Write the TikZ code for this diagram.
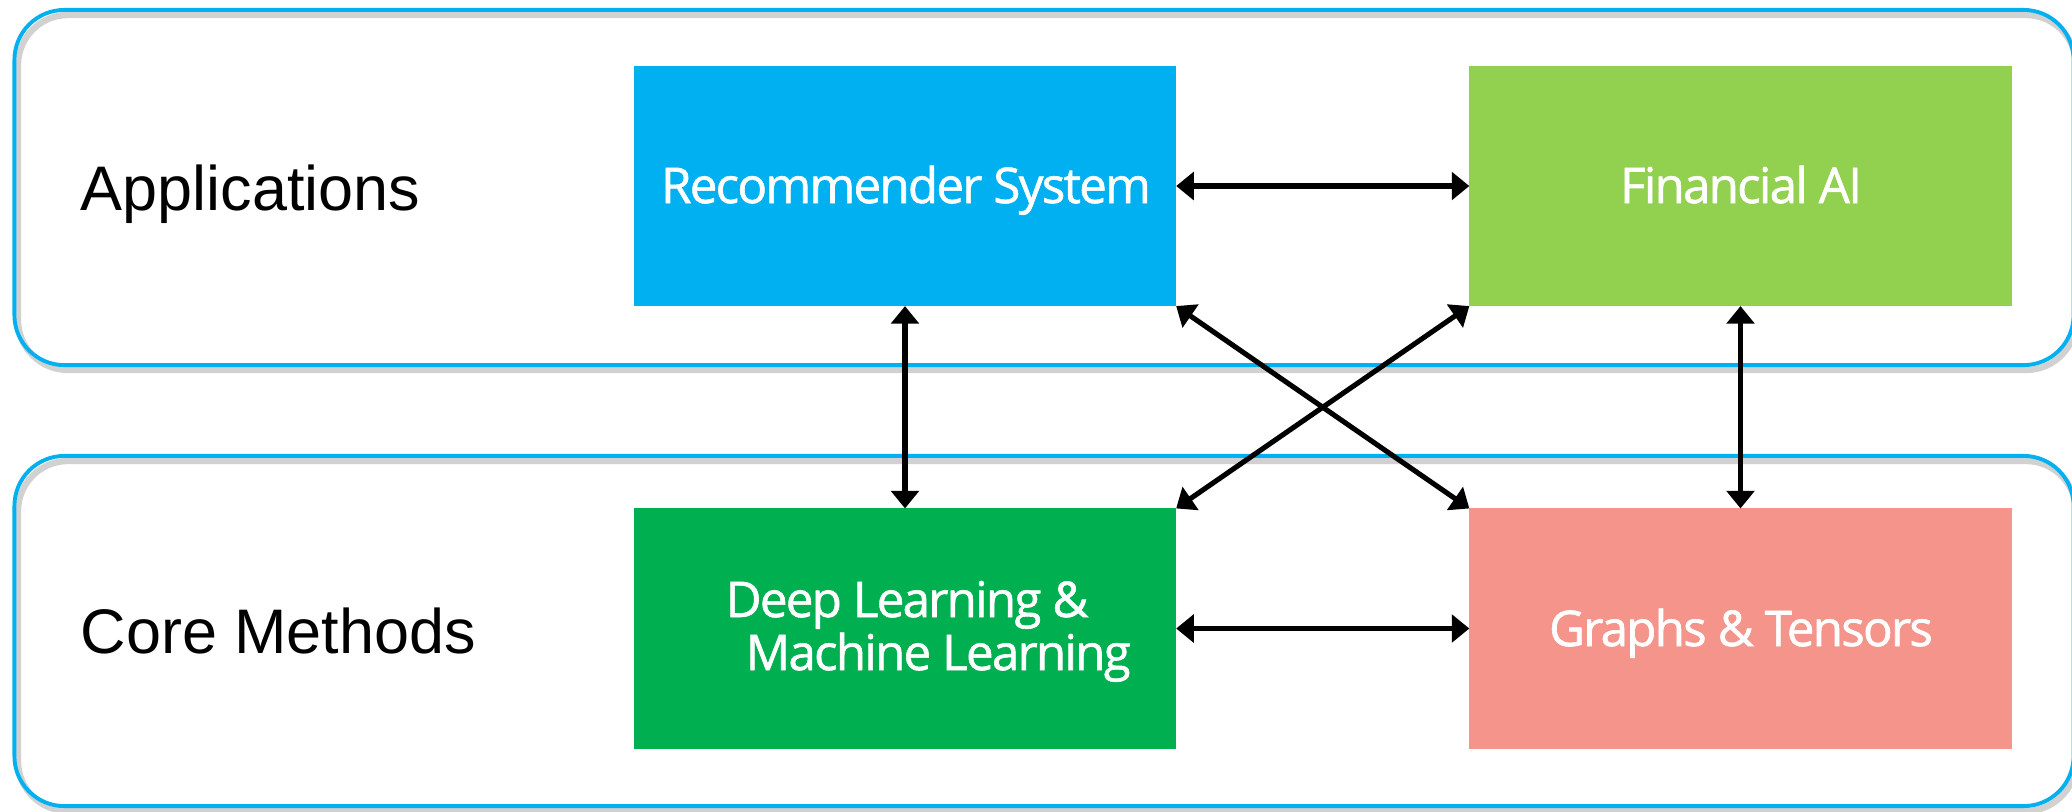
\documentclass[tikz,border=0pt]{standalone}
\usepackage{fontspec}
\setmainfont{Liberation Sans}
\newfontfamily\boxfont[LetterSpace=-3.5,FakeBold=1.2]{Open Sans}
\usetikzlibrary{arrows.meta}
\definecolor{grpblue}{HTML}{00B0F0}
\definecolor{recblue}{HTML}{00B0F0}
\definecolor{fingreen}{HTML}{92D050}
\definecolor{dlgreen}{HTML}{00B050}
\definecolor{gtsalmon}{HTML}{F4948A}
\tikzset{
  group/.style={draw=grpblue, line width=1.1pt, rounded corners=0.5cm, inner sep=0pt},
  grpshadow/.style={draw=black, draw opacity=0.18, line width=1.8pt, rounded corners=0.5cm},
  box/.style={minimum width=5.42cm, minimum height=2.40cm, inner sep=0pt, outer sep=0pt},
  boxtext/.style={inner sep=0pt, text=white, font=\boxfont\fontsize{14}{15}\selectfont},
  grplabel/.style={inner sep=0pt, anchor=base west, font=\fontsize{17.9}{20}\selectfont},
  link/.style={{Triangle[length=5pt,width=7.8pt]}-{Triangle[length=5pt,width=7.8pt]}, line width=1.45pt, shorten <=0pt, shorten >=0pt}
}
\begin{document}
\begin{tikzpicture}[x=0.01cm, y=-0.01cm]
\useasboundingbox (0,0) rectangle (2072,811);
\fill[white] (0,0) rectangle (2072,811);
% group shadows
\draw[grpshadow] (18,15) rectangle (2076,370);
\draw[grpshadow] (18,461) rectangle (2076,811);
% groups
\node[group, minimum width=20.58cm, minimum height=3.55cm] (appgrp) at (1044,187.5) {};
\node[group, minimum width=20.58cm, minimum height=3.50cm] (coregrp) at (1044,631) {};
% labels
\node[grplabel] (applbl) at (80,210) {Applications};
\node[grplabel] (corelbl) at (80,653) {Core Methods};
% boxes
\node[box, fill=recblue] (rec) at (905,186) {};
\node[box, fill=fingreen] (fin) at (1740.5,186) {};
\node[box, fill=dlgreen] (dl) at (905,628.5) {};
\node[box, fill=gtsalmon] (gt) at (1740.5,628.5) {};
% box texts
\node[boxtext, anchor=base] (rectxt) at (906,203) {Recommender System};
\node[boxtext, anchor=base] (fintxt) at (1741,203) {Financial AI};
\node[boxtext, anchor=base west] (dltxta) at (725,617) {Deep Learning \&};
\node[boxtext, anchor=base west] (dltxtb) at (745,670) {Machine Learning};
\node[boxtext, anchor=base] (gttxt) at (1741,646) {Graphs \& Tensors};
% connectors
\draw[link] (rec.east) -- (fin.west);
\draw[link] (dl.east) -- (gt.west);
\draw[link] (rec.south) -- (dl.north);
\draw[link] (fin.south) -- (gt.north);
\draw[link] (rec.south east) -- (gt.north west);
\draw[link] (fin.south west) -- (dl.north east);
\end{tikzpicture}
\end{document}
